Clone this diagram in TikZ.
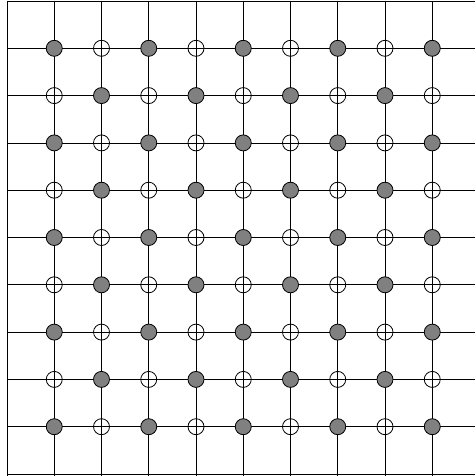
\documentclass[tikz,border=0pt]{standalone}
\begin{document}
\begin{tikzpicture}[x=1pt,y=-1pt,
  gridline/.style={black,line width=0.8pt},
  dotfull/.style={circle,draw=black,line width=0.8pt,fill=black!50,minimum size=16pt,inner sep=0pt},
  dotopen/.style={circle,draw=black,line width=0.8pt,minimum size=16pt,inner sep=0pt}]
\useasboundingbox (0,0) rectangle (475,476);
\foreach \k in {0,...,9} {
  \draw[gridline] ({7+\k*47.25},1) -- ({7+\k*47.25},476);
}
\foreach \j in {0,...,10} {
  \draw[gridline] (7,{1+\j*47.3}) -- (475,{1+\j*47.3});
}
\foreach \i in {1,...,9} {
  \foreach \j in {1,...,9} {
    \pgfmathtruncatemacro{\parity}{mod(\i+\j,2)}
    \ifnum\parity=0
      \node[dotfull] (d\i-\j) at ({7+\i*47.25},{1+\j*47.3}) {};
    \else
      \node[dotopen] (d\i-\j) at ({7+\i*47.25},{1+\j*47.3}) {};
    \fi
  }
}
\end{tikzpicture}
\end{document}
